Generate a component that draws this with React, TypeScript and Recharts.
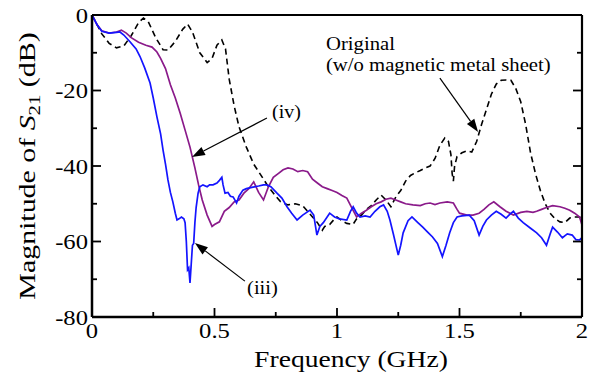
import React from 'react';
import { LineChart, Line, XAxis, YAxis, ReferenceLine, ReferenceDot, Label } from 'recharts';

// Frequency (GHz) and magnitude (dB)
const origF = [0, 0.02, 0.04, 0.07, 0.1, 0.13, 0.16, 0.19, 0.21, 0.23, 0.26, 0.29, 0.31, 0.34, 0.37, 0.39, 0.41, 0.44, 0.47, 0.49, 0.51, 0.53, 0.545, 0.56, 0.58, 0.6, 0.63, 0.66, 0.69, 0.72, 0.75, 0.77, 0.8, 0.83, 0.86, 0.88, 0.9, 0.92, 0.94, 0.95, 0.97, 0.99, 1.0, 1.02, 1.04, 1.065, 1.08, 1.1, 1.12, 1.14, 1.16, 1.18, 1.2, 1.22, 1.24, 1.26, 1.28, 1.3, 1.32, 1.34, 1.36, 1.38, 1.4, 1.42, 1.44, 1.455, 1.465, 1.47, 1.475, 1.48, 1.49, 1.51, 1.53, 1.55, 1.57, 1.59, 1.61, 1.63, 1.65, 1.67, 1.69, 1.71, 1.73, 1.75, 1.77, 1.79, 1.81, 1.83, 1.85, 1.87, 1.89, 1.91, 1.93, 1.95, 1.97, 1.99, 2.0];
const origV = [0, -2.5, -5, -7.5, -8.7, -8.2, -5.5, -2, -0.8, -1.8, -6, -9.2, -9.3, -7, -3.8, -2.4, -4.5, -10, -12.6, -11.5, -8, -6.6, -9, -17, -24, -29.6, -35, -39.5, -42.5, -45.5, -48, -49.5, -50.3, -50, -50.5, -52, -53.5, -55, -57, -56, -55.5, -54, -53.5, -54.5, -55.2, -55.5, -54, -53, -51.5, -50.5, -49, -47.7, -49, -50.8, -48.2, -46.5, -44, -42.5, -41.8, -41.2, -40.5, -40, -38, -34.5, -32.6, -33.5, -37, -42, -44, -40, -37.5, -36.5, -36, -36.3, -33.5, -29, -25, -21, -18.3, -17.3, -17.2, -17.3, -19.5, -23, -29, -36.5, -42, -46.5, -50, -52.5, -54, -54.8, -55, -53.8, -53.5, -53.5, -54];

const ivF = [0, 0.02, 0.04, 0.07, 0.1, 0.12, 0.14, 0.16, 0.19, 0.22, 0.245, 0.265, 0.28, 0.3, 0.32, 0.34, 0.36, 0.38, 0.4, 0.42, 0.435, 0.45, 0.47, 0.49, 0.5, 0.52, 0.54, 0.56, 0.58, 0.6, 0.62, 0.64, 0.66, 0.68, 0.7, 0.72, 0.74, 0.76, 0.78, 0.8, 0.82, 0.84, 0.86, 0.88, 0.9, 0.92, 0.94, 0.96, 0.98, 1.0, 1.02, 1.04, 1.06, 1.08, 1.1, 1.12, 1.14, 1.16, 1.18, 1.2, 1.22, 1.24, 1.26, 1.28, 1.31, 1.34, 1.36, 1.38, 1.4, 1.42, 1.45, 1.475, 1.49, 1.5, 1.53, 1.555, 1.58, 1.6, 1.62, 1.64, 1.665, 1.69, 1.72, 1.75, 1.775, 1.8, 1.815, 1.835, 1.855, 1.88, 1.91, 1.93, 1.95, 1.97, 1.99, 2.0];
const ivV = [0, -2.5, -4.2, -4.8, -4.5, -4, -4.8, -6, -7.2, -8, -8.5, -9.8, -11.5, -14.2, -18.5, -22, -26, -30.5, -35, -40.5, -45, -49, -53, -56, -55.5, -54.8, -52, -51, -49.5, -49, -47.2, -46, -44.2, -47, -49, -45.5, -43, -42, -41, -40.5, -40.8, -41.5, -41.2, -41.5, -43.5, -44.5, -45.5, -46, -46.5, -47, -47.8, -48.5, -51, -53.5, -52.5, -51.7, -50.8, -50, -49.5, -48.8, -48.5, -49, -49.5, -50, -50.3, -50.5, -50, -49.8, -50.2, -49.8, -49.5, -49.8, -51.5, -52.5, -53, -53, -52.5, -51.5, -50.3, -49.5, -50.8, -52, -53, -52.3, -52, -52.3, -52, -51.5, -51, -50.5, -50.8, -51.2, -51.7, -52.5, -53.5, -55.6];

const iiiF = [0, 0.02, 0.04, 0.07, 0.1, 0.114, 0.13, 0.155, 0.18, 0.196, 0.215, 0.237, 0.25, 0.265, 0.28, 0.29, 0.3, 0.31, 0.32, 0.33, 0.34, 0.347, 0.355, 0.365, 0.375, 0.38, 0.385, 0.39, 0.395, 0.4, 0.405, 0.41, 0.415, 0.42, 0.425, 0.433, 0.44, 0.453, 0.47, 0.48, 0.494, 0.51, 0.52, 0.53, 0.535, 0.543, 0.555, 0.565, 0.576, 0.59, 0.6, 0.616, 0.63, 0.657, 0.68, 0.7, 0.714, 0.73, 0.755, 0.775, 0.796, 0.815, 0.837, 0.86, 0.89, 0.905, 0.918, 0.93, 0.944, 0.97, 0.99, 1.01, 1.04, 1.055, 1.066, 1.08, 1.094, 1.115, 1.135, 1.155, 1.175, 1.19, 1.205, 1.216, 1.23, 1.25, 1.26, 1.27, 1.29, 1.306, 1.33, 1.35, 1.37, 1.39, 1.41, 1.43, 1.445, 1.46, 1.475, 1.49, 1.51, 1.54, 1.56, 1.58, 1.595, 1.61, 1.63, 1.65, 1.67, 1.69, 1.705, 1.72, 1.74, 1.76, 1.79, 1.815, 1.835, 1.855, 1.87, 1.88, 1.9, 1.92, 1.94, 1.96, 1.975, 1.99, 2.0];
const iiiV = [0, -2.5, -4.3, -4.8, -4.6, -4.5, -5.3, -7.1, -9, -11, -14, -18, -22, -27, -31.5, -35.8, -39.5, -43.7, -47, -49.5, -52.5, -54.3, -54, -53.5, -54, -55, -60, -67.5, -67, -71, -66, -61, -60.5, -55, -51, -47.2, -45.5, -45, -45.5, -45, -45, -44.5, -43.8, -43, -45, -47.2, -47, -48, -48.2, -49.8, -48, -46.4, -46, -45.6, -45.3, -45, -45, -45.5, -47.2, -48.5, -50.8, -52.5, -54.3, -53, -51.7, -53, -58.3, -56, -55, -52.5, -53.5, -54, -54.3, -52, -50.8, -52.5, -53.5, -53.2, -53.5, -52, -50.8, -50.3, -52, -54.3, -58, -63.6, -61, -57.7, -54.5, -53.5, -55, -56.2, -57.5, -58.8, -60.5, -64, -61, -57.7, -55, -53.5, -53.2, -53, -54.5, -58.3, -56, -54.3, -53, -52, -52.8, -53.8, -52.8, -52, -53.8, -55, -56.5, -57.7, -59, -61, -58, -56.2, -57.5, -59, -58, -58.3, -59.5, -59.6, -59];

const xTicks = [0, 0.25, 0.5, 0.75, 1, 1.25, 1.5, 1.75, 2];
const xLabels = ['0', '', '0.5', '', '1', '', '1.5', '', '2'];
const yTicks = [-80, -70, -60, -50, -40, -30, -20, -10, 0];
const yLabels = ['-80', '', '-60', '', '-40', '', '-20', '', '0'];

const zip = (f: number[], v: number[]) => f.map((x, i) => ({ f: x, v: v[i] }));
const origData = zip(origF, origV);
const ivData = zip(ivF, ivV);
const iiiData = zip(iiiF, iiiV);

const FONT = '"Liberation Serif", "Times New Roman", serif';
const serif = (size: number): React.CSSProperties => ({ fontFamily: FONT, fontSize: size });

// text stretched along its reading direction (reference glyphs are slightly wide)
const SText = ({ x, y, size, sx, anchor = 'start', rot = 0, dy, children }: any) => (
  <g transform={`translate(${x},${y}) rotate(${rot}) scale(${sx},1)`}>
    <text x={0} y={0} dy={dy} textAnchor={anchor} style={serif(size)} fill="#000">
      {children}
    </text>
  </g>
);

const MAJOR = 9;
const MINOR = 5;

const BottomTick = (props: any) => {
  const { x, y, index } = props;
  const lab = xLabels[index];
  const len = lab !== '' ? MAJOR : MINOR;
  return (
    <g>
      <line x1={x} y1={y} x2={x} y2={y - len} stroke="#000" strokeWidth={1.8} />
      {lab !== '' && <SText x={x} y={y + 21} size={22} sx={1.12} anchor="middle">{lab}</SText>}
    </g>
  );
};
const TopTick = (props: any) => {
  const { x, y, index } = props;
  const len = xLabels[index] !== '' ? MAJOR : MINOR;
  return <line x1={x} y1={y} x2={x} y2={y + len} stroke="#000" strokeWidth={1.8} />;
};
const LeftTick = (props: any) => {
  const { x, y, index } = props;
  const lab = yLabels[index];
  const len = lab !== '' ? MAJOR : MINOR;
  return (
    <g>
      <line x1={x} y1={y} x2={x + len} y2={y} stroke="#000" strokeWidth={1.8} />
      {lab !== '' && <SText x={x - 4} y={y + 7.5} size={22} sx={1.12} anchor="end">{lab}</SText>}
    </g>
  );
};
const RightTick = (props: any) => {
  const { x, y, index } = props;
  const len = yLabels[index] !== '' ? MAJOR : MINOR;
  return <line x1={x} y1={y} x2={x - len} y2={y} stroke="#000" strokeWidth={1.8} />;
};

const Arrow = (props: any) => {
  const { x1, y1, x2, y2 } = props;
  const dx = x2 - x1;
  const dy = y2 - y1;
  const L = Math.sqrt(dx * dx + dy * dy);
  const ux = dx / L;
  const uy = dy / L;
  const hl = 13;
  const hw = 4.5;
  const bx = x2 - ux * hl;
  const by = y2 - uy * hl;
  const pts = `${x2},${y2} ${bx - uy * hw},${by + ux * hw} ${bx + uy * hw},${by - ux * hw}`;
  return (
    <g>
      <line x1={x1} y1={y1} x2={bx} y2={by} stroke="#000" strokeWidth={1.2} />
      <polygon points={pts} fill="#000" />
    </g>
  );
};

const textShape = (lines: string[], size: number, sx: number) => (props: any) => {
  const { cx, cy } = props;
  return (
    <g>
      {lines.map((l, i) => (
        <SText key={i} x={cx} y={cy + i * size * 1.1} size={size} sx={sx}>{l}</SText>
      ))}
    </g>
  );
};

export default function App() {
  return (
    <div style={{ position: 'absolute', left: 0, top: 0, background: '#fff' }}>
      <LineChart width={602} height={378} margin={{ top: 14, right: 19, bottom: 60, left: 91 }}>
        <XAxis
          dataKey="f"
          type="number"
          domain={[0, 2]}
          ticks={xTicks}
          height={1}
          tickSize={0}
          tickMargin={0}
          tick={<BottomTick />}
          axisLine={{ stroke: '#000', strokeWidth: 2.5 }}
          allowDataOverflow
          interval={0}
        >
          <Label
            content={(p: any) => {
              const vb = p.viewBox;
              return (
                <SText x={vb.x + vb.width / 2 + 14} y={vb.y + 50} size={23} sx={1.2} anchor="middle">
                  Frequency (GHz)
                </SText>
              );
            }}
          />
        </XAxis>
        <XAxis
          xAxisId="top"
          orientation="top"
          type="number"
          domain={[0, 2]}
          ticks={xTicks}
          height={1}
          tickSize={0}
          tickMargin={0}
          tick={<TopTick />}
          axisLine={{ stroke: '#000', strokeWidth: 2.2 }}
          allowDataOverflow
          interval={0}
        />
        <YAxis
          type="number"
          domain={[-80, 0]}
          ticks={yTicks}
          width={1}
          tickSize={0}
          tickMargin={0}
          tick={<LeftTick />}
          axisLine={{ stroke: '#000', strokeWidth: 2.5 }}
          allowDataOverflow
          interval={0}
        >
          <Label
            content={(p: any) => {
              const vb = p.viewBox;
              const cx = vb.x + vb.width - 57;
              const cy = vb.y + vb.height / 2;
              return (
                <SText x={cx} y={cy} size={23} sx={1.3} rot={-90} anchor="middle">
                  Magnitude of <tspan fontStyle="italic">S</tspan>
                  <tspan style={{ fontSize: 16 }} dy="5">21</tspan>
                  <tspan dy="-5"> (dB)</tspan>
                </SText>
              );
            }}
          />
        </YAxis>
        <YAxis
          yAxisId="right"
          orientation="right"
          type="number"
          domain={[-80, 0]}
          ticks={yTicks}
          width={1}
          tickSize={0}
          tickMargin={0}
          tick={<RightTick />}
          axisLine={{ stroke: '#000', strokeWidth: 2.2 }}
          allowDataOverflow
          interval={0}
        />

        <Line data={origData} dataKey="v" stroke="#000" strokeWidth={1.6} strokeDasharray="6 4" dot={false} isAnimationActive={false} />
        <Line data={ivData} dataKey="v" stroke="#8a1a8a" strokeWidth={1.7} dot={false} isAnimationActive={false} />
        <Line data={iiiData} dataKey="v" stroke="#1414ff" strokeWidth={1.7} dot={false} isAnimationActive={false} />

        <ReferenceLine segment={[{ x: 1.42, y: -16.7 }, { x: 1.576, y: -31 }]} shape={<Arrow />} ifOverflow="visible" />
        <ReferenceLine segment={[{ x: 0.714, y: -27.3 }, { x: 0.408, y: -37.6 }]} shape={<Arrow />} ifOverflow="visible" />
        <ReferenceLine segment={[{ x: 0.624, y: -70.5 }, { x: 0.42, y: -60.4 }]} shape={<Arrow />} ifOverflow="visible" />

        <ReferenceDot x={0.955} y={-9.4} r={0} ifOverflow="visible" shape={textShape(['Original', '(w/o magnetic metal sheet)'], 19, 1.09)} />
        <ReferenceDot x={0.735} y={-27.3} r={0} ifOverflow="visible" shape={textShape(['(iv)'], 19, 1.05)} />
        <ReferenceDot x={0.633} y={-73.9} r={0} ifOverflow="visible" shape={textShape(['(iii)'], 19, 1.08)} />
      </LineChart>
    </div>
  );
}
